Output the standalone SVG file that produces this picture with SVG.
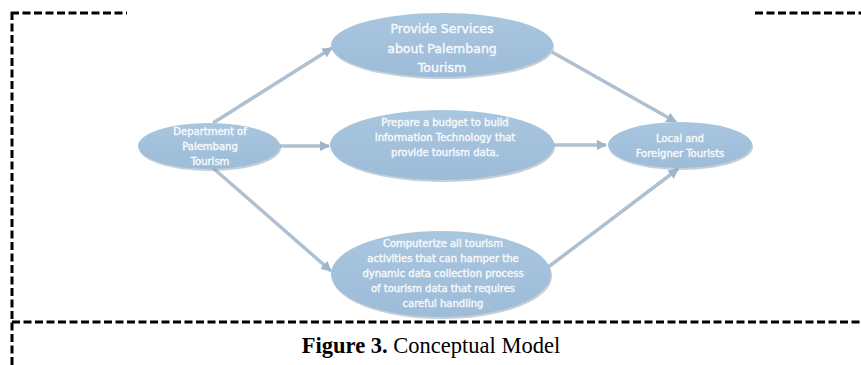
<svg xmlns="http://www.w3.org/2000/svg" width="861" height="365" viewBox="0 0 861 365">
<style>
.frame{fill:none;stroke:#000;stroke-width:3;stroke-dasharray:8 3.5}
.node{fill:url(#g);stroke:none}
.shadow{fill:#7f94a8;opacity:0.45}
.lbl{font-family:"DejaVu Sans",Verdana,sans-serif;fill:#f7f9fb;stroke:#f7f9fb;stroke-width:0.4;text-anchor:middle}
.conn{stroke:#afc0d1;stroke-width:3.5;fill:none;marker-end:url(#ah)}
.cap{font-family:"Liberation Serif","Times New Roman",serif;font-size:22.5px;fill:#000;text-anchor:middle}
</style>
<defs>
<linearGradient id="g" x1="0" y1="0" x2="0" y2="1">
<stop offset="0" stop-color="#a9c6df"/>
<stop offset="1" stop-color="#9dbcd8"/>
</linearGradient>
<marker id="ah" viewBox="0 0 10 10" refX="9" refY="5" markerWidth="3" markerHeight="3" orient="auto" markerUnits="strokeWidth">
<path d="M0,0 L10,5 L0,10 z" fill="#9fb5ca"/>
</marker>
</defs>
<g id="frame">
<path class="frame" d="M11,13 H127"/>
<path class="frame" d="M755,13 H861"/>
<path class="frame" d="M12,12 V365"/>
<path class="frame" d="M12,322 H861"/>
</g>
<g id="connectors">
<line class="conn" x1="213" y1="123" x2="332" y2="48"/>
<line class="conn" x1="280" y1="146" x2="329" y2="146"/>
<line class="conn" x1="213" y1="168" x2="331" y2="271"/>
<line class="conn" x1="552" y1="52" x2="676" y2="122"/>
<line class="conn" x1="554" y1="145" x2="606" y2="145"/>
<line class="conn" x1="547" y1="268" x2="678" y2="169"/>
</g>
<g id="n-dept">
<ellipse class="shadow" cx="210" cy="148" rx="71" ry="23"/>
<ellipse class="node" cx="209" cy="146" rx="71" ry="23"/>
<text class="lbl" font-size="10"><tspan x="210" y="135">Department of</tspan><tspan x="210" y="150">Palembang</tspan><tspan x="210" y="165">Tourism</tspan></text>
</g>
<g id="n-services">
<ellipse class="shadow" cx="443" cy="47" rx="111" ry="32"/>
<ellipse class="node" cx="442" cy="45" rx="111" ry="32"/>
<text class="lbl" font-size="12.5"><tspan x="442" y="33">Provide Services</tspan><tspan x="442" y="53">about Palembang</tspan><tspan x="442" y="72">Tourism</tspan></text>
</g>
<g id="n-budget">
<ellipse class="shadow" cx="443" cy="147" rx="112" ry="35"/>
<ellipse class="node" cx="442" cy="145" rx="112" ry="35"/>
<text class="lbl" font-size="10"><tspan x="445" y="126">Prepare a budget to build</tspan><tspan x="445" y="141">Information Technology that</tspan><tspan x="445" y="156">provide tourism data.</tspan></text>
</g>
<g id="n-computerize">
<ellipse class="shadow" cx="442" cy="276" rx="110" ry="43"/>
<ellipse class="node" cx="441" cy="274" rx="110" ry="43"/>
<text class="lbl" font-size="10"><tspan x="443" y="247">Computerize all tourism</tspan><tspan x="443" y="262">activities that can hamper the</tspan><tspan x="443" y="277">dynamic data collection process</tspan><tspan x="443" y="292">of tourism data that requires</tspan><tspan x="443" y="307">careful handling</tspan></text>
</g>
<g id="n-tourists">
<ellipse class="shadow" cx="681" cy="147" rx="72" ry="23"/>
<ellipse class="node" cx="680" cy="145" rx="72" ry="23"/>
<text class="lbl" font-size="10"><tspan x="680" y="142">Local and</tspan><tspan x="680" y="157">Foreigner Tourists</tspan></text>
</g>
<text class="cap" x="431" y="353"><tspan font-weight="bold">Figure 3.</tspan> Conceptual Model</text>
</svg>
